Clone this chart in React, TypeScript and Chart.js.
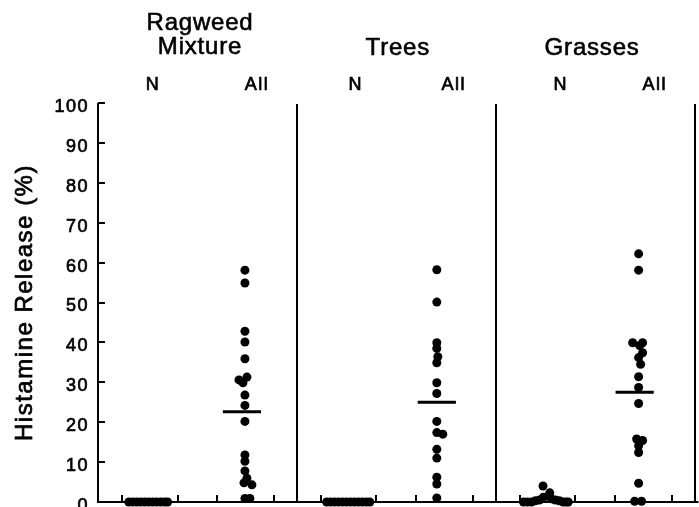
import React, { useEffect, useRef } from "react";
import { Chart, registerables } from "chart.js";

Chart.register(...registerables);

// ---- text ----
const panelTitles: string[][] = [["Ragweed", "Mixture"], ["Trees"], ["Grasses"]];
const groupLabels = ["N", "All"];
const yTicks = [0, 10, 20, 30, 40, 50, 60, 70, 80, 90, 100];
const yTitle = "Histamine Release (%)";

// ---- data (histamine release, %) ----
const ragweedN = [0, 0, 0, 0, 0, 0, 0, 0, 0, 0, 0];
const ragweedNJitter = [-0.095, -0.075, -0.055, -0.035, -0.015, 0.005, 0.025, 0.045, 0.065, 0.085, 0.1];
const ragweedAll = [58.1, 54.9, 42.8, 40.1, 35.9, 31.3, 30.6, 29.9, 26.8, 24.2, 20.2, 11.8, 10.2, 7.8, 6.0, 4.8, 4.3, 0.9, 0.9];
const ragweedAllJitter = [0, 0, 0, 0, 0, 0.01, -0.03, -0.01, 0, 0, 0, 0, 0, 0, 0.01, -0.005, 0.035, 0, 0.025];

const treesN = [0, 0, 0, 0, 0, 0, 0, 0, 0, 0, 0, 0];
const treesNJitter = [-0.105, -0.085, -0.065, -0.045, -0.025, -0.005, 0.015, 0.035, 0.055, 0.075, 0.095, 0.112];
const treesAll = [58.2, 50.1, 39.9, 38.5, 36.4, 34.9, 29.9, 27.2, 20.2, 17.4, 17.0, 13.2, 11.0, 6.2, 4.5, 1.0];
const treesAllJitter = [0, 0, 0, 0, 0.005, 0, 0, 0, 0, 0, 0.03, 0, 0, 0, 0, 0];

const grassesN = [0, 0, 0, 0.3, 0.5, 1.2, 4.0, 2.3, 0.8, 0.5, 0.3, 0, 0, 0];
const grassesNJitter = [-0.11, -0.09, -0.07, -0.05, -0.03, -0.01, -0.012, 0.022, 0.03, 0.05, 0.07, 0.09, 0.105, 0.115];
const grassesAll = [62.2, 58.1, 39.9, 39.9, 39.2, 37.4, 36.2, 34.5, 31.4, 28.7, 24.7, 15.8, 15.4, 14.1, 12.4, 4.7, 0.2, 0.2];
const grassesAllJitter = [0, 0, -0.03, 0.02, 0.005, 0.02, 0, 0.01, 0, 0, 0, -0.01, 0.02, 0, 0, 0, -0.02, 0.015];

const medians = [22.6, 25.0, 27.5];

// ---- layout (positions within each panel, in panel units) ----
const nCenter = [0.25, 0.255, 0.25];
const allCenter = [0.739, 0.704, 0.719];
const medianCenter = [0.724, 0.704, 0.699];
const medianHalf = 0.096;
const nLabelX = [0.276, 0.296, 0.327];
const allLabelX = [0.8, 0.789, 0.8];
const titleX = [0.513, 0.508, 0.485];
const xTickRel = [0.12, 0.4, 0.6, 0.885];

const FONT = '"Liberation Sans", Arial, Helvetica, sans-serif';

export default function App() {
  const ref = useRef<HTMLCanvasElement | null>(null);

  useEffect(() => {
    document.body.style.margin = "0";
    const canvas = ref.current;
    if (!canvas) return;

    const groupsN = [ragweedN, treesN, grassesN];
    const groupsNJ = [ragweedNJitter, treesNJitter, grassesNJitter];
    const groupsAll = [ragweedAll, treesAll, grassesAll];
    const groupsAllJ = [ragweedAllJitter, treesAllJitter, grassesAllJitter];

    const datasets: any[] = [];
    for (let p = 0; p < 3; p++) {
      datasets.push({
        data: groupsN[p].map((v, i) => ({ x: p + nCenter[p] + groupsNJ[p][i], y: v })),
        backgroundColor: "#000",
        borderWidth: 0,
        pointRadius: 4.5,
        clip: false,
      });
      datasets.push({
        data: groupsAll[p].map((v, i) => ({ x: p + allCenter[p] + groupsAllJ[p][i], y: v })),
        backgroundColor: "#000",
        borderWidth: 0,
        pointRadius: 4.5,
        clip: false,
      });
      datasets.push({
        data: [
          { x: p + medianCenter[p] - medianHalf, y: medians[p] },
          { x: p + medianCenter[p] + medianHalf, y: medians[p] },
        ],
        showLine: true,
        borderColor: "#000",
        borderWidth: 3,
        pointRadius: 0,
        clip: false,
      });
    }

    const drawText = (ctx: CanvasRenderingContext2D, s: string, x: number, y: number) => {
      ctx.fillText(s, x, y);
      ctx.strokeText(s, x, y);
    };

    const decor = {
      id: "decor",
      beforeDraw(chart: any) {
        (chart.ctx as any).letterSpacing = "1.5px";
      },
      beforeDatasetsDraw(chart: any) {
        const { ctx, chartArea: a, scales } = chart;
        (ctx as any).letterSpacing = "0px";
        const x = scales.x;
        const y = scales.y;
        ctx.save();
        ctx.strokeStyle = "#000";
        ctx.lineWidth = 2;
        ctx.beginPath();
        ctx.moveTo(a.left, a.top);
        ctx.lineTo(a.left, a.bottom);
        ctx.moveTo(a.left - 1, a.bottom);
        ctx.lineTo(a.right + 4, a.bottom);
        for (let p = 1; p <= 3; p++) {
          const px = Math.round(x.getPixelForValue(p));
          ctx.moveTo(px, a.top + 1);
          ctx.lineTo(px, a.bottom);
        }
        y.ticks.forEach((t: any) => {
          const py = Math.round(y.getPixelForValue(t.value));
          ctx.moveTo(a.left, py);
          ctx.lineTo(a.left + 7, py);
        });
        for (let p = 0; p < 3; p++) {
          xTickRel.forEach((r) => {
            const px = Math.round(x.getPixelForValue(p + r));
            ctx.moveTo(px, a.bottom);
            ctx.lineTo(px, a.bottom - 7);
          });
        }
        ctx.stroke();
        ctx.restore();
      },
      afterDraw(chart: any) {
        const { ctx, chartArea: a, scales } = chart;
        const x = scales.x;
        ctx.save();
        ctx.fillStyle = "#000";
        ctx.strokeStyle = "#000";
        ctx.lineWidth = 0.6;
        ctx.textAlign = "center";
        ctx.textBaseline = "alphabetic";
        // panel titles
        ctx.font = `24px ${FONT}`;
        (ctx as any).letterSpacing = "0.8px";
        for (let p = 0; p < 3; p++) {
          const px = x.getPixelForValue(p + titleX[p]);
          const lines = panelTitles[p];
          if (lines.length === 2) {
            drawText(ctx, lines[0], px, 30);
            drawText(ctx, lines[1], px, 54);
          } else {
            drawText(ctx, lines[0], px, 55);
          }
        }
        // N / All
        ctx.lineWidth = 0.7;
        ctx.font = `18px ${FONT}`;
        (ctx as any).letterSpacing = "1.5px";
        for (let p = 0; p < 3; p++) {
          drawText(ctx, groupLabels[0], x.getPixelForValue(p + nLabelX[p]), 90);
          drawText(ctx, groupLabels[1], x.getPixelForValue(p + allLabelX[p]), 90);
        }
        // y title
        ctx.font = `24px ${FONT}`;
        (ctx as any).letterSpacing = "1.5px";
        ctx.translate(25, (a.top + a.bottom) / 2);
        ctx.rotate(-Math.PI / 2);
        ctx.textBaseline = "middle";
        drawText(ctx, yTitle, 0, 0);
        ctx.restore();
      },
    };

    const chart = new Chart(canvas, {
      type: "scatter",
      data: { datasets },
      options: {
        animation: false,
        responsive: false,
        devicePixelRatio: 1,
        layout: { padding: { top: 103, bottom: 5, left: 0, right: 4 } },
        plugins: { legend: { display: false }, tooltip: { enabled: false }, title: { display: false } },
        scales: {
          x: { type: "linear", min: 0, max: 3, display: false },
          y: {
            type: "linear",
            min: 0,
            max: 100,
            afterBuildTicks: (s: any) => {
              s.ticks = yTicks.map((v) => ({ value: v }));
            },
            afterFit: (s: any) => {
              s.width = 98;
              s.paddingTop = 0;
              s.paddingBottom = 0;
            },
            grid: { display: false, drawTicks: false },
            border: { display: false },
            ticks: {
              color: "#000",
              padding: 9,
              labelOffset: 4,
              textStrokeColor: "#000",
              textStrokeWidth: 0.7,
              font: { family: FONT, size: 18 },
            },
          },
        },
      },
      plugins: [decor],
    });

    return () => chart.destroy();
  }, []);

  return <canvas ref={ref} width={699} height={507} style={{ display: "block" }} />;
}
